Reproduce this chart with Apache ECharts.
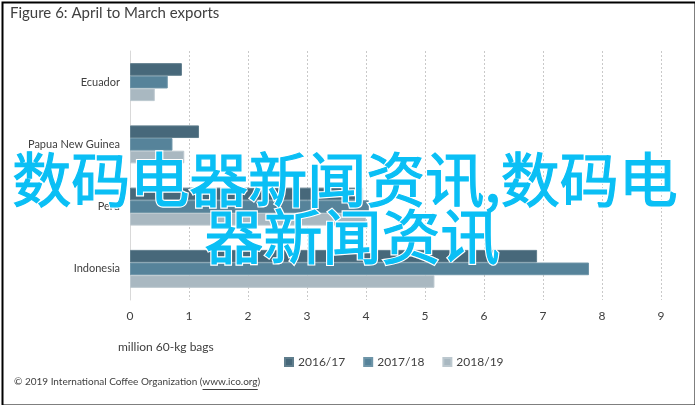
<!DOCTYPE html>
<html>
<head>
<meta charset="utf-8">
<script src="https://cdn.jsdelivr.net/npm/echarts@6/dist/echarts.min.js"></script>
<style>
html,body{margin:0;padding:0;background:#fff;}
#c{width:695px;height:405px;}
</style>
</head>
<body>
<div id="c"></div>
<script>
const categories = ['Ecuador', 'Papua New Guinea', 'Peru', 'Indonesia'];
const seriesNames = ['2016/17', '2017/18', '2018/19'];
const v201617 = [0.88, 1.17, 3.95, 6.90];
const v201718 = [0.64, 0.72, 4.05, 7.78];
const v201819 = [0.42, 0.92, 4.00, 5.16];
const xTicks = [0, 1, 2, 3, 4, 5, 6, 7, 8, 9];
const titleText = 'Figure 6: April to March exports';
const axisTitle = 'million 60-kg bags';
const footerPrefix = '© 2019 International Coffee Organization (';
const footerLink = 'www.ico.org';
const footerSuffix = ')';
const overlayLines = ['数码电器新闻资讯,数码电', '器新闻资讯'];

const colors = ['#47687a', '#56839a', '#a9b8c1'];
const borders = ['#5f7d8c', '#6e95a8', '#bcc8cf'];
const values = [v201617, v201718, v201819];
const font = 'Lato, "Open Sans", sans-serif';
const cjk = '59px "Noto Sans CJK SC", sans-serif';
const cyan = '#0abff5';

const chart = echarts.init(document.getElementById('c'), null, {renderer: 'canvas'});

const ctx = document.createElement('canvas').getContext('2d');
ctx.font = '10px ' + font;
const preW = ctx.measureText(footerPrefix).width;
const linkW = ctx.measureText(footerLink).width;
const footerX = 14;

const linePos = [{x: 345, y: 150}, {x: 352, y: 207}];
const overlay = [];
overlayLines.forEach((t, i) => {
  overlay.push({type: 'text', x: linePos[i].x, y: linePos[i].y, z: 50,
    style: {text: t, fill: '#ffffff', stroke: '#ffffff', lineWidth: 3.5,
            align: 'center', verticalAlign: 'top', font: cjk}});
  overlay.push({type: 'text', x: linePos[i].x, y: linePos[i].y, z: 51,
    style: {text: t, fill: cyan, stroke: cyan, lineWidth: 1.2,
            align: 'center', verticalAlign: 'top', font: cjk}});
});

chart.setOption({
  animation: false,
  backgroundColor: '#fff',
  grid: {left: 130, right: 34, top: 51, bottom: 105, containLabel: false},
  legend: {
    data: seriesNames,
    left: 279, top: 351,
    itemWidth: 8, itemHeight: 8, itemGap: 18,
    icon: 'rect',
    textStyle: {color: '#404040', fontSize: 12, fontFamily: font}
  },
  xAxis: {
    type: 'value', min: xTicks[0], max: xTicks[xTicks.length - 1], interval: 1,
    axisLine: {show: false}, axisTick: {show: false},
    axisLabel: {color: '#404040', fontSize: 12, fontFamily: font, margin: 10},
    splitLine: {show: true, lineStyle: {color: '#c9c9c9', type: [2, 2], width: 1}}
  },
  yAxis: {
    type: 'category', data: categories, inverse: true,
    axisLine: {show: true, lineStyle: {color: '#d9d9d9', width: 1}},
    axisTick: {show: false},
    axisLabel: {color: '#404040', fontSize: 11, fontFamily: font, margin: 10}
  },
  series: seriesNames.map((n, i) => ({
    name: n, type: 'bar', data: values[i],
    barGap: '0%', barCategoryGap: '39%',
    itemStyle: {color: colors[i], borderColor: borders[i], borderWidth: 1}
  })),
  graphic: [
    {type: 'rect', left: 0, top: 0, shape: {width: 693, height: 403},
     style: {fill: 'none', stroke: '#000', lineWidth: 2}, z: 100},
    {type: 'text', left: 10, top: 6,
     style: {text: titleText, fill: '#404040', font: '15px ' + font}},
    {type: 'text', left: 118, top: 341,
     style: {text: axisTitle, fill: '#404040', font: '12px ' + font}},
    {type: 'text', left: footerX, top: 377,
     style: {text: footerPrefix + footerLink + footerSuffix, fill: '#404040', font: '10px ' + font}},
    {type: 'line', z: 10,
     shape: {x1: footerX + preW, y1: 389.5, x2: footerX + preW + linkW, y2: 389.5},
     style: {stroke: '#404040', lineWidth: 1}}
  ].concat(overlay)
});
</script>
</body>
</html>
